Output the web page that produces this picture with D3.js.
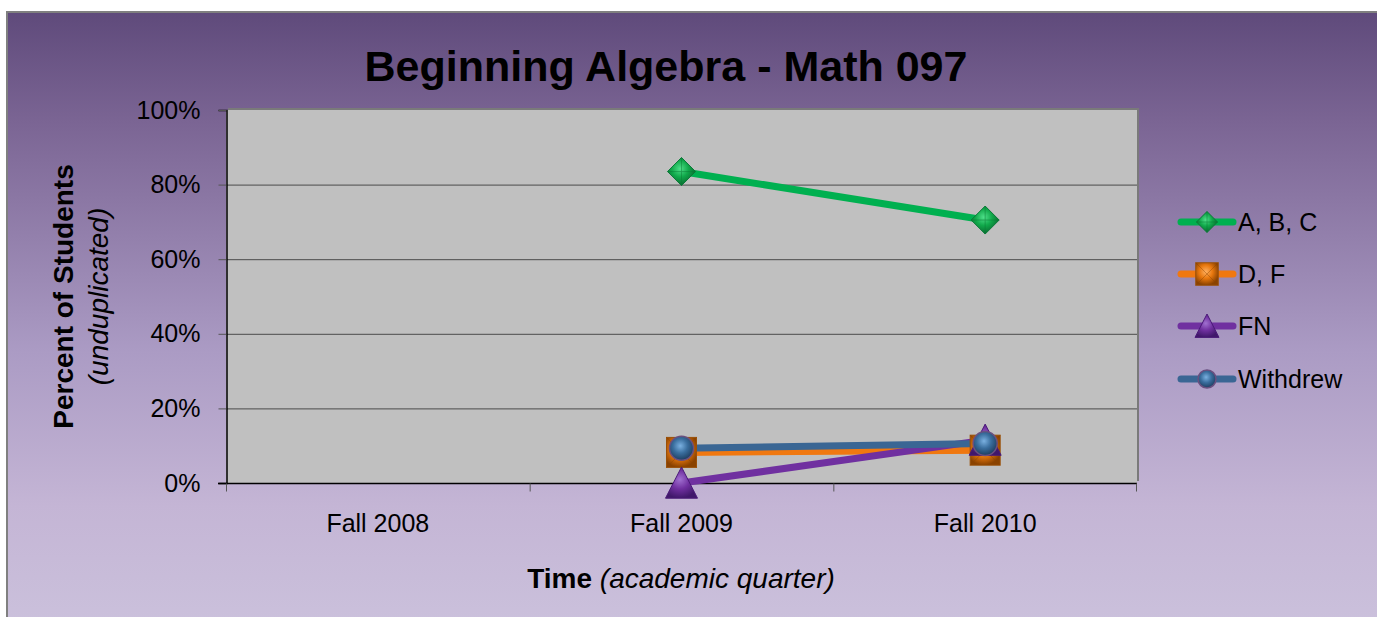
<!DOCTYPE html>
<html>
<head>
<meta charset="utf-8">
<script src="https://cdn.jsdelivr.net/npm/d3@7"></script>
<style>
  body { margin: 0; background: #fff; }
  svg { display: block; font-family: Arial, "Liberation Sans", sans-serif; }
</style>
</head>
<body>
<div id="chart"></div>
<script>
// chart data
var categories = ['Fall 2008', 'Fall 2009', 'Fall 2010'];
var seriesNames = ['A, B, C', 'D, F', 'FN', 'Withdrew'];
var abcValues = [null, 83.5, 70.5];
var dfValues = [null, 8.2, 8.8];
var fnValues = [null, 0, 11.5];
var withdrewValues = [null, 9.3, 10.6];
var yTicks = [0, 20, 40, 60, 80, 100];

var width = 1377, height = 617;
var plot = { left: 226, right: 1137, top: 110, bottom: 483 };

var svg = d3.select('#chart').append('svg')
  .attr('width', width)
  .attr('height', height);

var defs = svg.append('defs');

var bg = defs.append('linearGradient').attr('id', 'bg')
  .attr('x1', 0).attr('y1', 0).attr('x2', 0).attr('y2', 1);
bg.append('stop').attr('offset', '0%').attr('stop-color', '#5f4a7b');
bg.append('stop').attr('offset', '18%').attr('stop-color', '#7b6594');
bg.append('stop').attr('offset', '55%').attr('stop-color', '#ab9bc4');
bg.append('stop').attr('offset', '80%').attr('stop-color', '#c4b5d5');
bg.append('stop').attr('offset', '100%').attr('stop-color', '#cbc1dc');

function radial (id, light, mid, dark) {
  var g = defs.append('radialGradient').attr('id', id)
    .attr('cx', '45%').attr('cy', '40%').attr('r', '60%');
  g.append('stop').attr('offset', '0%').attr('stop-color', light);
  g.append('stop').attr('offset', '50%').attr('stop-color', mid);
  g.append('stop').attr('offset', '100%').attr('stop-color', dark);
}
radial('gGreen', '#4fe08a', '#10a84a', '#0a6a30');
radial('gOrange', '#ffb060', '#e8780e', '#8a4200');
radial('gPurple', '#a070d0', '#7030a0', '#40186a');
radial('gBlue', '#7ab0e0', '#3a6e9e', '#1e3e60');

// background panel
svg.append('rect')
  .attr('x', 7).attr('y', 12)
  .attr('width', width).attr('height', height)
  .attr('fill', 'url(#bg)')
  .attr('stroke', '#808080')
  .attr('stroke-width', 2);

var x = d3.scalePoint().domain(categories)
  .range([plot.left, plot.right]).padding(0.5);
var xBand = d3.scaleBand().domain(categories)
  .range([plot.left, plot.right]);
var y = d3.scaleLinear().domain([0, 100]).range([plot.bottom, plot.top]);

// plot area with shadow
svg.append('rect')
  .attr('x', plot.left + 2).attr('y', plot.top - 2)
  .attr('width', plot.right - plot.left).attr('height', plot.bottom - plot.top)
  .attr('fill', '#7a7a7a');
svg.append('rect')
  .attr('x', plot.left).attr('y', plot.top)
  .attr('width', plot.right - plot.left).attr('height', plot.bottom - plot.top)
  .attr('fill', '#c0c0c0');

// gridlines
svg.append('g')
  .selectAll('line')
  .data(yTicks.filter(function (d) { return d > 0 && d < 100; }))
  .enter().append('line')
  .attr('x1', plot.left).attr('x2', plot.right)
  .attr('y1', function (d) { return y(d) + 0.5; })
  .attr('y2', function (d) { return y(d) + 0.5; })
  .attr('stroke', '#4a4a4a').attr('stroke-width', 1);

// y axis
var yAxis = svg.append('g')
  .attr('transform', 'translate(' + (plot.left + 0.5) + ',0)')
  .call(d3.axisLeft(y).tickValues(yTicks).tickSize(8).tickPadding(18)
    .tickFormat(function (d) { return d + '%'; }));
yAxis.select('.domain').attr('stroke', '#000').attr('stroke-width', 1.5);
yAxis.selectAll('.tick line').attr('stroke', '#555');
yAxis.selectAll('.tick text')
  .attr('font-size', 25).attr('fill', '#000')
  .attr('font-family', 'Arial, "Liberation Sans", sans-serif');

// x axis
var xAxisG = svg.append('g')
  .attr('transform', 'translate(0,' + (plot.bottom + 0.5) + ')');
xAxisG.append('line')
  .attr('x1', plot.left - 8).attr('x2', plot.right)
  .attr('stroke', '#000').attr('stroke-width', 1.5);
xAxisG.selectAll('.xt')
  .data(categories.concat(['end']))
  .enter().append('line')
  .attr('x1', function (d, i) { return i < categories.length ? xBand(d) + 0.5 : plot.right - 0.5; })
  .attr('x2', function (d, i) { return i < categories.length ? xBand(d) + 0.5 : plot.right - 0.5; })
  .attr('y1', 0).attr('y2', 8)
  .attr('stroke', '#555');
xAxisG.selectAll('text')
  .data(categories)
  .enter().append('text')
  .attr('x', function (d) { return x(d); })
  .attr('y', 48)
  .attr('text-anchor', 'middle')
  .attr('font-size', 25)
  .text(function (d) { return d; });

// titles
svg.append('text')
  .attr('x', 666).attr('y', 81)
  .attr('text-anchor', 'middle')
  .attr('font-size', 43).attr('font-weight', 'bold')
  .text('Beginning Algebra - Math 097');

var xt = svg.append('text')
  .attr('x', 681).attr('y', 588)
  .attr('text-anchor', 'middle')
  .attr('font-size', 28);
xt.append('tspan').attr('font-weight', 'bold').text('Time ');
xt.append('tspan').attr('font-style', 'italic').text('(academic quarter)');

var yt = svg.append('g').attr('transform', 'translate(73,' + ((plot.top + plot.bottom) / 2) + ') rotate(-90)');
yt.append('text')
  .attr('text-anchor', 'middle')
  .attr('font-size', 28).attr('font-weight', 'bold')
  .text('Percent of Students');
yt.append('text')
  .attr('y', 35)
  .attr('text-anchor', 'middle')
  .attr('font-size', 28).attr('font-style', 'italic')
  .text('(unduplicated)');

// series
var series = [
  { name: seriesNames[0], values: abcValues, color: '#00b050', fill: 'url(#gGreen)', shape: 'diamond' },
  { name: seriesNames[1], values: dfValues, color: '#f07810', fill: 'url(#gOrange)', shape: 'square' },
  { name: seriesNames[2], values: fnValues, color: '#7030a0', fill: 'url(#gPurple)', shape: 'triangle' },
  { name: seriesNames[3], values: withdrewValues, color: '#3a6694', fill: 'url(#gBlue)', shape: 'circle' }
];

var line = d3.line()
  .defined(function (d) { return d.v != null; })
  .x(function (d) { return x(d.c); })
  .y(function (d) { return y(d.v); });

function pts (s) {
  return s.values.map(function (v, i) { return { c: categories[i], v: v }; });
}

function drawMarker (g, shape, cx, cy, fill, scale) {
  scale = scale || 1;
  if (shape === 'diamond') {
    var r = 14 * scale;
    g.append('path')
      .attr('d', 'M' + cx + ',' + (cy - r) + 'L' + (cx + r) + ',' + cy + 'L' + cx + ',' + (cy + r) + 'L' + (cx - r) + ',' + cy + 'Z')
      .attr('fill', fill).attr('stroke', '#0a7a38').attr('stroke-width', 1);
    g.append('path')
      .attr('d', 'M' + (cx - r) + ',' + cy + 'L' + (cx + r) + ',' + cy + 'M' + cx + ',' + (cy - r) + 'L' + cx + ',' + (cy + r))
      .attr('stroke', '#0b7a36').attr('stroke-width', 0.8).attr('opacity', 0.6);
  } else if (shape === 'square') {
    var h = 15 * scale;
    g.append('rect')
      .attr('x', cx - h).attr('y', cy - h).attr('width', 2 * h).attr('height', 2 * h)
      .attr('fill', fill).attr('stroke', '#9a5008').attr('stroke-width', 1);
    g.append('path')
      .attr('d', 'M' + (cx - h) + ',' + (cy - h) + 'L' + (cx + h) + ',' + (cy + h) + 'M' + (cx + h) + ',' + (cy - h) + 'L' + (cx - h) + ',' + (cy + h))
      .attr('stroke', '#8a4200').attr('stroke-width', 0.8).attr('opacity', 0.5);
  } else if (shape === 'triangle') {
    var t = 16 * scale;
    g.append('path')
      .attr('d', 'M' + cx + ',' + (cy - t) + 'L' + (cx + t) + ',' + (cy + t * 0.95) + 'L' + (cx - t) + ',' + (cy + t * 0.95) + 'Z')
      .attr('fill', fill).attr('stroke', '#4a1a78').attr('stroke-width', 1);
  } else {
    g.append('circle')
      .attr('cx', cx).attr('cy', cy).attr('r', 12 * scale)
      .attr('fill', fill).attr('stroke', '#6a5080').attr('stroke-width', 1.5);
  }
}

var seriesG = svg.append('g');
series.forEach(function (s) {
  seriesG.append('path')
    .datum(pts(s))
    .attr('d', line)
    .attr('fill', 'none')
    .attr('stroke', s.color)
    .attr('stroke-width', 7)
    .attr('stroke-linecap', 'round');
});
series.forEach(function (s) {
  var g = seriesG.append('g');
  pts(s).forEach(function (p) {
    if (p.v == null) return;
    drawMarker(g, s.shape, x(p.c), y(p.v), s.fill);
  });
});

// legend
var legendRows = [222, 274, 326, 379];
var legend = svg.append('g');
series.forEach(function (s, i) {
  var ly = legendRows[i];
  legend.append('line')
    .attr('x1', 1181).attr('x2', 1233)
    .attr('y1', ly).attr('y2', ly)
    .attr('stroke', s.color).attr('stroke-width', 7)
    .attr('stroke-linecap', 'round');
  drawMarker(legend, s.shape, 1207, ly, s.fill, 0.75);
  legend.append('text')
    .attr('x', 1238).attr('y', ly + 9)
    .attr('font-size', 25)
    .text(s.name);
});
</script>
</body>
</html>
